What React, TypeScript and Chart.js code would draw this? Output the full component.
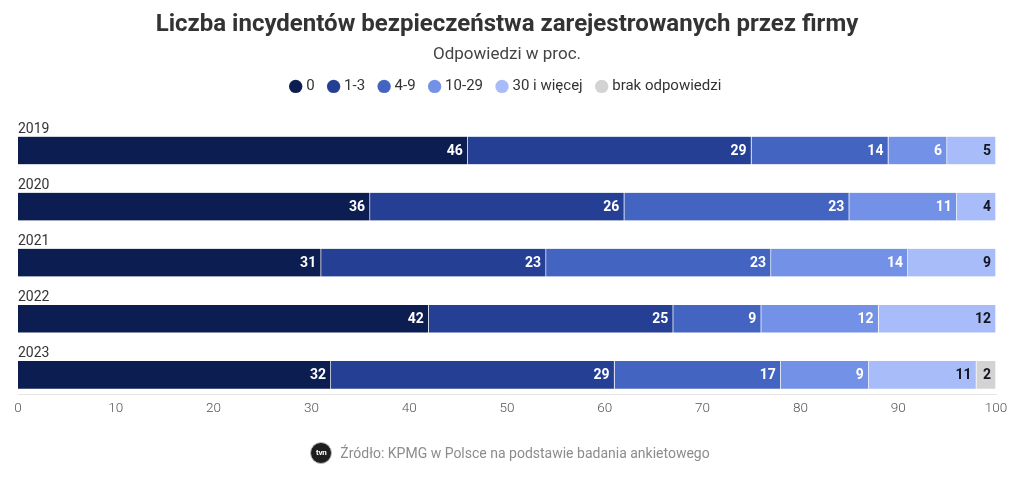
import React, { useEffect, useRef } from "react";
import { Chart, registerables } from "chart.js";

Chart.register(...registerables);

const years = ["2019", "2020", "2021", "2022", "2023"];
const seriesLabels = ["0", "1-3", "4-9", "10-29", "30 i więcej", "brak odpowiedzi"];
const v0 = [46, 36, 31, 42, 32];
const v1 = [29, 26, 23, 25, 29];
const v2 = [14, 23, 23, 9, 17];
const v3 = [6, 11, 14, 12, 9];
const v4 = [5, 4, 9, 12, 11];
const v5: (number | null)[] = [null, null, null, null, 2];
const seriesValues: (number | null)[][] = [v0, v1, v2, v3, v4, v5];
const seriesColors = ["#0c1d52", "#243f93", "#4464c2", "#7391e6", "#a7bcf8", "#d4d3d3"];
const valueLabelColors = ["#ffffff", "#ffffff", "#ffffff", "#ffffff", "#15151f", "#15151f"];
const xTickValues = [0, 10, 20, 30, 40, 50, 60, 70, 80, 90, 100];

const FONT = "Roboto, 'Noto Sans', sans-serif";

const yearLabelPlugin = {
  id: "yearLabels",
  afterDatasetsDraw(chart: any) {
    const meta = chart.getDatasetMeta(0);
    const ctx = chart.ctx;
    ctx.save();
    ctx.font = `400 14px ${FONT}`;
    ctx.fillStyle = "#333333";
    ctx.textAlign = "left";
    ctx.textBaseline = "alphabetic";
    meta.data.forEach((bar: any, i: number) => {
      const { y, height } = bar.getProps(["y", "height"], true);
      ctx.fillText(years[i], chart.chartArea.left, y - height / 2 - 3.5);
    });
    ctx.restore();
  },
};

const valueLabelPlugin = {
  id: "valueLabels",
  afterDatasetsDraw(chart: any) {
    const ctx = chart.ctx;
    ctx.save();
    ctx.font = `700 14px ${FONT}`;
    ctx.textAlign = "right";
    ctx.textBaseline = "middle";
    chart.data.datasets.forEach((ds: any, di: number) => {
      const meta = chart.getDatasetMeta(di);
      if (meta.hidden) return;
      ctx.fillStyle = valueLabelColors[di];
      ds.data.forEach((pt: any, j: number) => {
        const el = meta.data[j];
        if (!el || pt == null || pt.x == null) return;
        const { x, y } = el.getProps(["x", "y"], true);
        ctx.fillText(String(pt.x), x - 5, y + 0.5);
      });
    });
    ctx.restore();
  },
};

export default function App() {
  const canvasRef = useRef<HTMLCanvasElement | null>(null);

  useEffect(() => {
    if (!canvasRef.current) return;
    const datasets = seriesValues.map((vals, si) => ({
      label: seriesLabels[si],
      data: vals
        .map((v, i) => (v == null ? null : { x: v, y: i }))
        .filter((p) => p !== null),
      backgroundColor: seriesColors[si],
      borderColor: "rgba(255,255,255,0.35)",
      borderWidth: { top: 0, bottom: 0, left: 0, right: 1 },
      borderSkipped: false,
      barThickness: 27.7,
      pointStyle: "circle",
    }));

    const chart = new Chart(canvasRef.current, {
      type: "bar",
      data: { datasets: datasets as any },
      plugins: [yearLabelPlugin, valueLabelPlugin],
      options: {
        indexAxis: "y",
        responsive: true,
        maintainAspectRatio: false,
        animation: false,
        layout: { padding: { top: 0, left: 18, right: 24, bottom: 55.4 } },
        plugins: {
          title: {
            display: true,
            text: "Liczba incydentów bezpieczeństwa zarejestrowanych przez firmy",
            color: "#333333",
            font: { family: FONT, size: 24, weight: "bold", lineHeight: 1.2 },
            padding: { top: 10.5, bottom: 6.6 },
          },
          subtitle: {
            display: true,
            text: "Odpowiedzi w proc.",
            color: "#444444",
            font: { family: FONT, size: 17, weight: "normal", lineHeight: 1 },
            padding: { top: 0, bottom: 0 },
          },
          legend: {
            display: true,
            position: "top",
            labels: {
              usePointStyle: true,
              boxWidth: 6,
              boxHeight: 9.5,
              padding: 16,
              color: "#333333",
              font: { family: FONT, size: 15 },
            },
          },
          tooltip: { enabled: false },
        },
        scales: {
          x: {
            type: "linear",
            stacked: true,
            min: 0,
            max: 100,
            grid: { display: false, drawTicks: false },
            border: { display: true, color: "#e6e6e6", width: 1 },
            afterBuildTicks: (scale: any) => {
              scale.ticks = xTickValues.map((v) => ({ value: v }));
            },
            ticks: {
              color: "#555555",
              padding: 6.2,
              font: { family: FONT, size: 13.5, weight: 300 },
            },
          },
          y: {
            type: "linear",
            stacked: true,
            reverse: true,
            offset: false,
            bounds: "data",
            min: -0.831,
            max: 4.342,
            display: false,
          },
        },
      } as any,
    });
    return () => chart.destroy();
  }, []);

  return (
    <div style={{ position: "fixed", left: 0, top: 0, width: 1020, height: 478, background: "#ffffff" }}>
      <canvas ref={canvasRef} />
      <div
        style={{
          position: "absolute",
          left: 0,
          top: 440,
          width: 1020,
          height: 25,
          display: "flex",
          justifyContent: "center",
          alignItems: "center",
          gap: 8,
          fontFamily: FONT,
          fontSize: 14,
          color: "#8c8c8c",
        }}
      >
        <span
          style={{
            display: "inline-block",
            width: 22,
            height: 22,
            borderRadius: "50%",
            background: "#1e1e1e",
            border: "1px solid #bbbbbb",
            boxSizing: "border-box",
            color: "#ffffff",
            fontSize: 8,
            fontWeight: 700,
            lineHeight: "20px",
            textAlign: "center",
            letterSpacing: -0.3,
          }}
        >
          tvn
        </span>
        <span>Źródło: KPMG w Polsce na podstawie badania ankietowego</span>
      </div>
    </div>
  );
}
